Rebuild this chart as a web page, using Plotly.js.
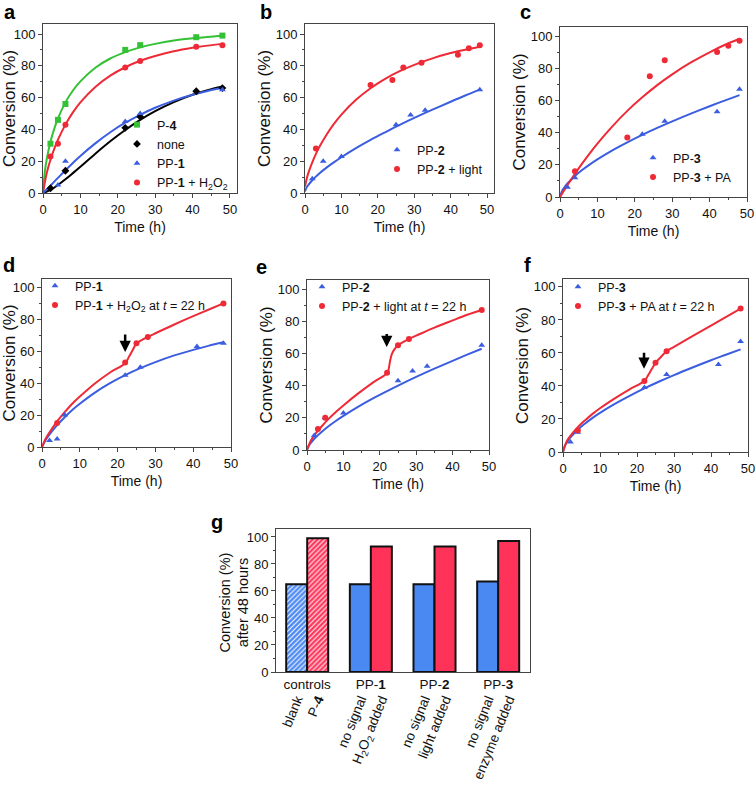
<!DOCTYPE html>
<html>
<head>
<meta charset="utf-8">
<script src="https://cdn.plot.ly/plotly-3.0.1.min.js"></script>
<style>
  html, body { margin: 0; padding: 0; background: #fff; }
  #chart { width: 756px; height: 785px; }
</style>
</head>
<body>
<div id="chart"></div>
<script>
// ---- panel a ----
const aP4T = [2, 4, 6, 22, 26, 41, 48];
const aP4V = [31, 46, 56, 90, 93, 98, 99];
const aNoneT = [2, 6, 22, 26, 41, 48];
const aNoneV = [3, 14, 41, 48, 64, 66];
const aPP1T = [4, 6, 22, 26, 48];
const aPP1V = [5, 20, 45, 50, 65];
const aH2O2T = [2, 4, 6, 22, 26, 41, 48];
const aH2O2V = [23, 31, 43, 79, 83, 92, 93];
// fitted curves
const aP4FitT = [0, 0.5, 1, 2, 3, 4, 6, 8, 10, 14, 18, 22, 26, 30, 35, 40, 44, 48];
const aP4FitV = [0, 13.6, 21.2, 32.2, 40.3, 46.9, 57, 64.5, 70.2, 78.8, 84.6, 88.6, 91.6, 93.8, 95.9, 97.3, 98.2, 98.9];
const aH2O2FitT = [0, 1, 2, 3, 4, 6, 8, 10, 14, 18, 22, 26, 30, 35, 40, 44, 48];
const aH2O2FitV = [0, 12.6, 20.9, 27.7, 33.5, 43, 50.7, 57, 66.7, 73.8, 79.1, 83.2, 86.2, 89.1, 91.3, 92.7, 93.8];
const aPP1FitT = [0, 2, 4, 6, 8, 10, 14, 18, 22, 26, 30, 35, 40, 44, 48];
const aPP1FitV = [0, 4.6, 9.5, 14.3, 18.9, 23.3, 31.2, 38.2, 44.2, 49.2, 53.6, 58.1, 61.8, 64.2, 66.2];
const aNoneFitT = [0, 2, 4, 6, 8, 10, 14, 18, 22, 26, 30, 35, 40, 44, 48];
const aNoneFitV = [0, 1.9, 5, 8.6, 12.5, 16.5, 24.7, 32.5, 39.6, 46, 51.5, 57.2, 61.8, 64.7, 67];

// ---- panel b ----
const bPP2T = [2, 5, 10, 25, 29, 33, 48];
const bPP2V = [9, 20, 23, 43, 49, 52, 65];
const bLightT = [3, 18, 24, 27, 32, 42, 45, 48];
const bLightV = [28, 68, 71, 79, 82, 87, 91, 93];
const bPP2FitT = [0, 0.5, 1, 2, 4, 6, 8, 10, 14, 18, 22, 26, 30, 35, 40, 44, 48];
const bPP2FitV = [1, 3.7, 5.3, 8, 12.4, 16.1, 19.4, 22.5, 28.2, 33.4, 38.2, 42.8, 47.2, 52.4, 57.4, 61.3, 65];
const bLightFitT = [0, 0.5, 1, 2, 3, 4, 6, 8, 10, 14, 18, 22, 26, 30, 35, 40, 44, 48];
const bLightFitV = [4, 9.3, 13.1, 19.3, 24.6, 29.2, 37, 43.6, 49.3, 58.6, 65.9, 71.8, 76.6, 80.6, 84.7, 88, 90.1, 92];

// ---- panel c ----
const cPP3T = [2, 4, 22, 28, 42, 48];
const cPP3V = [6, 12, 39, 47, 53, 67];
const cPAT = [4, 18, 24, 28, 42, 45, 48];
const cPAV = [16, 37, 75, 85, 90, 94, 97];
const cPP3FitT = [0, 0.5, 1, 2, 4, 6, 8, 10, 14, 18, 22, 26, 30, 35, 40, 44, 48];
const cPP3FitV = [0, 3.5, 5.4, 8.4, 13.1, 16.9, 20.3, 23.4, 29, 34, 38.6, 42.9, 47, 51.8, 56.4, 59.9, 63.3];
const cPAFitT = [0, 1, 2, 4, 6, 8, 10, 14, 18, 22, 26, 30, 35, 40, 44, 48];
const cPAFitV = [0, 3.8, 7.4, 14.4, 21, 27.3, 33.2, 43.9, 53.5, 61.9, 69.5, 76.2, 83.6, 89.9, 94.4, 98.3];

// ---- panel d ----
const dPP1T = [2, 4, 6, 22, 26, 41, 48];
const dPP1V = [4, 5, 20, 45, 50, 63, 65];
const dH2O2T = [4, 22, 25, 28, 48];
const dH2O2V = [15, 53, 65, 69, 90];
const dPP1FitT = [0, 1, 2, 4, 6, 8, 10, 14, 18, 22, 26, 30, 35, 40, 44, 48];
const dPP1FitV = [0, 4.5, 7.9, 13.7, 18.7, 23.2, 27.1, 34.1, 40, 45, 49.4, 53.2, 57.4, 60.9, 63.4, 65.6];
const dH2O2FitT = [0, 1, 2, 4, 6, 8, 10, 14, 18, 22, 23, 24, 25, 26, 28, 30, 35, 40, 44, 48];
const dH2O2FitV = [0, 5.3, 9.2, 16, 21.8, 27.1, 31.6, 39.8, 46.7, 52.5, 56.5, 60.8, 65, 66.5, 69, 71.3, 76.8, 82, 86, 90];

// ---- panel e ----
const ePP2T = [2, 5, 10, 25, 29, 33, 48];
const ePP2V = [9, 20, 23, 43, 49, 52, 65];
const eLightT = [3, 5, 22, 25, 28, 48];
const eLightV = [13, 20, 48, 65, 69, 87];
const ePP2FitT = [0, 0.5, 1, 2, 4, 6, 8, 10, 14, 18, 22, 26, 30, 35, 40, 44, 48];
const ePP2FitV = [0, 2.7, 4.3, 7, 11.2, 14.9, 18.2, 21.2, 26.8, 31.9, 36.6, 41.1, 45.4, 50.5, 55.4, 59.2, 62.9];
const eLightFitT = [0, 1, 2, 4, 6, 8, 10, 14, 18, 22, 22.4, 22.8, 23.3, 24, 25, 26, 28, 30, 35, 40, 44, 48];
const eLightFitV = [0, 5.6, 9.1, 14.6, 19.5, 23.8, 27.7, 35, 41.7, 47.8, 50, 55, 59.5, 62.5, 65, 66.5, 69, 71, 76, 80.5, 84, 87];

// ---- panel f ----
const fPP3T = [2, 4, 22, 28, 42, 48];
const fPP3V = [6, 12, 39, 47, 53, 67];
const fPAT = [4, 22, 25, 28, 48];
const fPAV = [13, 43, 54, 61, 87];
const fPP3FitT = [0, 0.5, 1, 2, 4, 6, 8, 10, 14, 18, 22, 26, 30, 35, 40, 44, 48];
const fPP3FitV = [0, 3.8, 5.75, 8.8, 13.5, 17.3, 20.7, 23.7, 29.1, 34, 38.5, 42.7, 46.6, 51.2, 55.6, 58.9, 62.2];
const fPAFitT = [0, 1, 2, 4, 6, 8, 10, 14, 18, 22, 23, 24, 25, 26, 28, 30, 35, 40, 44, 48];
const fPAFitV = [0, 6.4, 9.8, 15.1, 19.3, 23.1, 26.5, 32.5, 38, 43, 46.5, 50.3, 54, 56.5, 61, 63.7, 70.2, 76.6, 81.7, 86.8];

// ---- panel g ----
const gCats = ['controls', 'PP-1', 'PP-2', 'PP-3'];
const gCatLabels = ['controls', 'PP-<b>1</b>', 'PP-<b>2</b>', 'PP-<b>3</b>'];
const gBarLabels = ['blank', 'P-<b>4</b>', 'no signal', 'H<sub>2</sub>O<sub>2</sub> added',
  'no signal', 'light added', 'no signal', 'enzyme added'];
const gNoSignal = [65, 65, 65, 67];
const gSignal = [99, 93, 93, 97];

const GREEN = '#35c135', RED = '#ee2a36', BLUE = '#3b5de0', BLACK = '#000';
const BAR_BLUE = '#4a88f2', BAR_RED = '#ff3359';
const W = 756, H = 785;
const FONT = 'Liberation Sans, Arial, sans-serif';
const BARGAP = 0.34;
const HALF_BAR = (1 - BARGAP) / 4;   // centre offset of each bar inside a group

function xdom(l, r) { return [l / W, r / W]; }
function ydom(t, b) { return [1 - b / H, 1 - t / H]; }
function sfx(n) { return n === 1 ? '' : String(n); }

function fit(t, v, color, n) {
  return {
    x: t, y: v, xaxis: 'x' + sfx(n), yaxis: 'y' + sfx(n),
    mode: 'lines', line: { color: color, width: 2, shape: 'spline', smoothing: 1 },
    showlegend: false, hoverinfo: 'skip'
  };
}
function pts(t, v, color, symbol, name, n) {
  return {
    x: t, y: v, xaxis: 'x' + sfx(n), yaxis: 'y' + sfx(n),
    mode: 'markers', name: name, legend: 'legend' + sfx(n),
    marker: { color: color, symbol: symbol, size: 6 }
  };
}

// one rotated label under each bar, on a second axis that shares the bar axis scale
const barTickVals = [];
gCats.forEach(function (c, i) { barTickVals.push(i - HALF_BAR, i + HALF_BAR); });

const traces = [
  fit(aP4FitT, aP4FitV, GREEN, 1),
  fit(aH2O2FitT, aH2O2FitV, RED, 1),
  fit(aNoneFitT, aNoneFitV, BLACK, 1),
  fit(aPP1FitT, aPP1FitV, BLUE, 1),
  pts(aP4T, aP4V, GREEN, 'square', 'P-<b>4</b>', 1),
  pts(aNoneT, aNoneV, BLACK, 'diamond', 'none', 1),
  pts(aPP1T, aPP1V, BLUE, 'triangle-up', 'PP-<b>1</b>', 1),
  pts(aH2O2T, aH2O2V, RED, 'circle', 'PP-<b>1</b> + H<sub>2</sub>O<sub>2</sub>', 1),

  fit(bPP2FitT, bPP2FitV, BLUE, 2),
  fit(bLightFitT, bLightFitV, RED, 2),
  pts(bPP2T, bPP2V, BLUE, 'triangle-up', 'PP-<b>2</b>', 2),
  pts(bLightT, bLightV, RED, 'circle', 'PP-<b>2</b> + light', 2),

  fit(cPP3FitT, cPP3FitV, BLUE, 3),
  fit(cPAFitT, cPAFitV, RED, 3),
  pts(cPP3T, cPP3V, BLUE, 'triangle-up', 'PP-<b>3</b>', 3),
  pts(cPAT, cPAV, RED, 'circle', 'PP-<b>3</b> + PA', 3),

  fit(dPP1FitT, dPP1FitV, BLUE, 4),
  fit(dH2O2FitT, dH2O2FitV, RED, 4),
  pts(dPP1T, dPP1V, BLUE, 'triangle-up', 'PP-<b>1</b>', 4),
  pts(dH2O2T, dH2O2V, RED, 'circle', 'PP-<b>1</b> + H<sub>2</sub>O<sub>2</sub> at <i>t</i> = 22 h', 4),

  fit(ePP2FitT, ePP2FitV, BLUE, 5),
  fit(eLightFitT, eLightFitV, RED, 5),
  pts(ePP2T, ePP2V, BLUE, 'triangle-up', 'PP-<b>2</b>', 5),
  pts(eLightT, eLightV, RED, 'circle', 'PP-<b>2</b> + light at <i>t</i> = 22 h', 5),

  fit(fPP3FitT, fPP3FitV, BLUE, 6),
  fit(fPAFitT, fPAFitV, RED, 6),
  pts(fPP3T, fPP3V, BLUE, 'triangle-up', 'PP-<b>3</b>', 6),
  pts(fPAT, fPAV, RED, 'circle', 'PP-<b>3</b> + PA at <i>t</i> = 22 h', 6),

  {
    type: 'bar', x: gCats, y: gNoSignal, xaxis: 'x7', yaxis: 'y7', showlegend: false,
    marker: {
      color: BAR_BLUE, line: { color: '#111', width: 2 },
      pattern: { shape: ['/', '', '', ''], fgcolor: '#ffffff', bgcolor: BAR_BLUE, size: 3.5, solidity: 0.3 }
    }
  },
  {
    type: 'bar', x: gCats, y: gSignal, xaxis: 'x7', yaxis: 'y7', showlegend: false,
    marker: {
      color: BAR_RED, line: { color: '#111', width: 2 },
      pattern: { shape: ['/', '', '', ''], fgcolor: '#ffffff', bgcolor: BAR_RED, size: 3.5, solidity: 0.3 }
    }
  },
  // invisible carrier so the label axis under the bars gets drawn
  {
    type: 'scatter', x: barTickVals, y: barTickVals.map(function () { return 0; }),
    xaxis: 'x8', yaxis: 'y7', mode: 'markers', marker: { opacity: 0 },
    showlegend: false, hoverinfo: 'skip'
  }
];

const axBase = {
  showline: true, mirror: true, linecolor: '#444', linewidth: 1,
  ticks: 'outside', ticklen: 4, tickcolor: '#444', tickwidth: 1,
  showgrid: false, zeroline: false, fixedrange: true,
  tickfont: { size: 13, color: '#111' }
};
function xAx(n, l, r, xmax) {
  return Object.assign({}, axBase, {
    domain: xdom(l, r), range: [0, xmax], dtick: 10, anchor: 'y' + sfx(n),
    minor: { dtick: 5, ticks: 'outside', ticklen: 2, tickcolor: '#444' },
    title: { text: 'Time (h)', font: { size: 14, color: '#111' }, standoff: 6 }
  });
}
function yAx(n, top, bottom, ymax) {
  return Object.assign({}, axBase, {
    domain: ydom(top, bottom), range: [0, ymax], dtick: 20, anchor: 'x' + sfx(n),
    minor: { dtick: 10, ticks: 'outside', ticklen: 2, tickcolor: '#444' },
    title: { text: 'Conversion (%)', font: { size: 17, color: '#111' }, standoff: 0 }
  });
}
function leg(l, top) {
  return {
    x: l / W, y: 1 - top / H, xanchor: 'left', yanchor: 'top',
    bgcolor: 'rgba(0,0,0,0)', borderwidth: 0,
    font: { size: 12.5, color: '#111', family: FONT }, itemclick: false, itemdoubleclick: false
  };
}
function letter(txt, px, py) {
  return { text: '<b>' + txt + '</b>', xref: 'paper', yref: 'paper', x: px / W, y: 1 - py / H,
    showarrow: false, font: { size: 20, color: '#000' }, xanchor: 'center', yanchor: 'middle' };
}
function arrow(n, t, yHead, yTail) {
  return { xref: 'x' + sfx(n), yref: 'y' + sfx(n), axref: 'x' + sfx(n), ayref: 'y' + sfx(n),
    x: t, y: yHead, ax: t, ay: yTail, text: '', showarrow: true,
    arrowhead: 2, arrowsize: 0.9, arrowwidth: 2.5, arrowcolor: '#000' };
}

const layout = {
  width: W, height: H,
  margin: { l: 0, r: 0, t: 0, b: 0 },
  paper_bgcolor: '#fff', plot_bgcolor: '#fff',
  font: { family: FONT, color: '#111' },
  showlegend: true,
  barmode: 'group', bargap: BARGAP, bargroupgap: 0,

  xaxis: xAx(1, 43, 237, 51.9),
  yaxis: yAx(1, 24, 193, 106.3),
  xaxis2: xAx(2, 305, 494, 51.9),
  yaxis2: yAx(2, 24, 193, 106.3),
  xaxis3: xAx(3, 560, 747, 50),
  yaxis3: yAx(3, 27, 197, 105.6),
  xaxis4: xAx(4, 42, 231, 50),
  yaxis4: yAx(4, 279, 447, 105.3),
  xaxis5: xAx(5, 307, 489, 50),
  yaxis5: yAx(5, 280, 450, 105.6),
  xaxis6: xAx(6, 563, 748, 50),
  yaxis6: yAx(6, 279, 452, 104.8),

  xaxis7: Object.assign({}, axBase, {
    domain: xdom(276, 530), anchor: 'y7', type: 'category', range: [-0.49, 3.5],
    ticks: '', tickvals: gCats, ticktext: gCatLabels,
    tickfont: { size: 13.5, color: '#111' }
  }),
  xaxis8: {
    overlaying: 'x7', anchor: 'free', position: 1 - 688 / H,
    range: [-0.49, 3.5], showline: false, showgrid: false, zeroline: false, ticks: '',
    tickvals: barTickVals, ticktext: gBarLabels, tickangle: -68, fixedrange: true,
    tickfont: { size: 13.5, color: '#111' }
  },
  yaxis7: Object.assign({}, axBase, {
    domain: ydom(529, 672), anchor: 'x7', range: [0, 105.9], dtick: 20,
    minor: { dtick: 10, ticks: 'outside', ticklen: 2, tickcolor: '#444' }
  }),

  legend: leg(117, 110),
  legend2: leg(377, 135),
  legend3: leg(633, 143),
  legend4: leg(35, 271),
  legend5: leg(302, 272),
  legend6: leg(558, 272),

  annotations: [
    letter('a', 10, 12), letter('b', 266, 12), letter('c', 525, 12),
    letter('d', 9, 265), letter('e', 261, 267), letter('f', 527, 265),
    letter('g', 217, 522),
    arrow(4, 22, 59.5, 71.5),
    arrow(5, 21.9, 64, 73),
    arrow(6, 21.9, 50.5, 61),
    { text: 'Conversion (%)<br>after 48 hours', xref: 'paper', yref: 'paper',
      x: 233.5 / W, y: 1 - 602 / H, textangle: -90, showarrow: false,
      font: { size: 14.5, color: '#111' }, xanchor: 'center', yanchor: 'middle' }
  ]
};

Plotly.newPlot('chart', traces, layout, { displayModeBar: false, staticPlot: true });
</script>
</body>
</html>
